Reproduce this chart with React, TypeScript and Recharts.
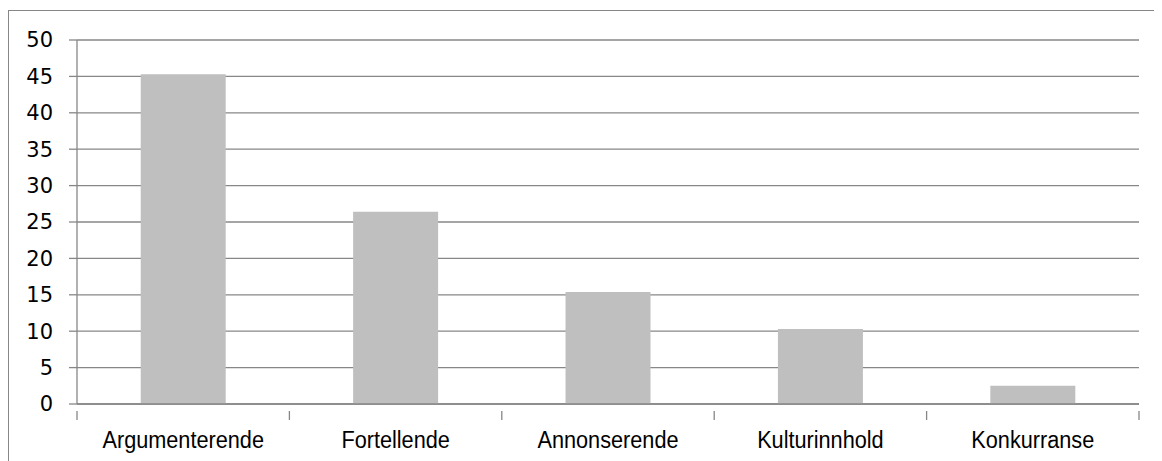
import React from 'react';
import { BarChart, Bar, XAxis, YAxis, CartesianGrid } from 'recharts';

const categories = ['Argumenterende', 'Fortellende', 'Annonserende', 'Kulturinnhold', 'Konkurranse'];
const values = [45.3, 26.4, 15.4, 10.3, 2.5];
const yTicks = [0, 5, 10, 15, 20, 25, 30, 35, 40, 45, 50];

const data = categories.map((name, i) => ({ name, value: values[i] }));

const AXIS = '#878787';
const TICK_SIZE = 8;
const TICK_MARGIN = 14;
const NARROW = 0.885;

const XTick = (props: any) => {
  const { x, y, payload, index, visibleTicksCount } = props;
  const off = payload?.offset ?? 0;
  const axisY = y - TICK_MARGIN;
  const y0 = axisY;
  const y1 = axisY + TICK_SIZE;
  return (
    <g>
      <line x1={x - off} x2={x - off} y1={y0 - 1} y2={y1} stroke={AXIS} strokeWidth={1.3} />
      {index === visibleTicksCount - 1 && (
        <line x1={x + off} x2={x + off} y1={y0 - 1} y2={y1} stroke={AXIS} strokeWidth={1.3} />
      )}
      <g transform={`translate(${x},0) scale(${NARROW},1)`}>
        <text
          x={0}
          y={y + TICK_SIZE - 3}
          textAnchor="middle"
          dy="0.71em"
          fill="#000"
          fontFamily="'Liberation Sans', Arial, sans-serif"
          fontSize={24.5}
        >
          {payload.value}
        </text>
      </g>
    </g>
  );
};

export default function App() {
  return (
    <div style={{ width: 1154, height: 453, position: 'relative', overflow: 'hidden', background: '#fff' }}>
      <div
        style={{
          position: 'absolute',
          top: 2,
          left: 0,
          width: 1200,
          height: 500,
          borderTop: `1.5px solid ${AXIS}`,
          borderLeft: `1.5px solid ${AXIS}`,
          boxSizing: 'border-box',
        }}
      />
      <div style={{ position: 'absolute', top: 0, left: 0 }}>
        <BarChart
          width={1154}
          height={453}
          data={data}
          margin={{ top: 32, right: 23, left: 0, bottom: 0 }}
          barCategoryGap="30%"
        >
          <CartesianGrid horizontal vertical={false} stroke={AXIS} strokeWidth={1.3} />
          <XAxis
            dataKey="name"
            height={57}
            axisLine={{ stroke: AXIS, strokeWidth: 1.3 }}
            tickLine={false}
            tickSize={TICK_SIZE}
            tickMargin={TICK_MARGIN}
            interval={0}
            tick={(p: any) => <XTick {...p} />}
          />
          <YAxis
            width={69}
            domain={[0, 50]}
            ticks={yTicks}
            interval={0}
            axisLine={{ stroke: AXIS, strokeWidth: 1.3 }}
            tickLine={{ stroke: AXIS, strokeWidth: 1.3 }}
            tickSize={TICK_SIZE}
            tickMargin={16}
            tick={{ fill: '#000', fontSize: 21, fontFamily: "'DejaVu Sans', sans-serif" }}
          />
          <Bar dataKey="value" fill="#bfbfbf" isAnimationActive={false} />
        </BarChart>
      </div>
    </div>
  );
}
